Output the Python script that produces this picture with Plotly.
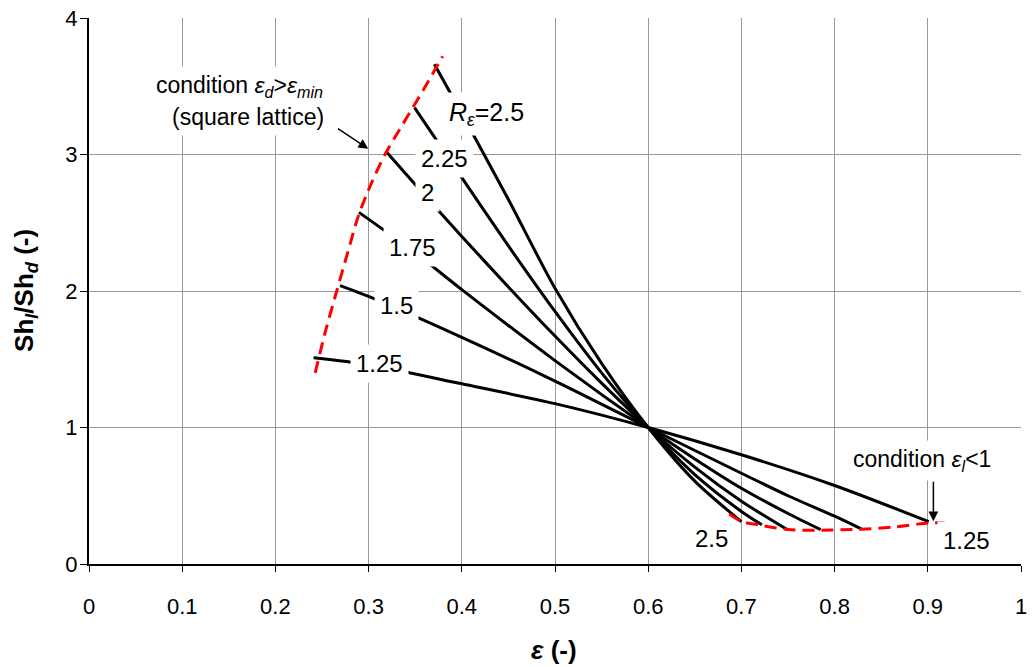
import plotly.graph_objects as go

# Sherwood ratio Sh_l/Sh_d versus mean porosity for several porosity ratios R_eps
eps_125 = [0.241, 0.30, 0.40, 0.50, 0.60, 0.70, 0.80, 0.901]
sh_125 = [1.511, 1.46, 1.32, 1.175, 1.00, 0.80, 0.575, 0.31]

eps_150 = [0.2694, 0.30, 0.40, 0.50, 0.60, 0.70, 0.75, 0.80, 0.829]
sh_150 = [2.04, 1.96, 1.66, 1.34, 1.00, 0.665, 0.50, 0.35, 0.256]

eps_175 = [0.2896, 0.35, 0.40, 0.50, 0.60, 0.65, 0.70, 0.75, 0.785]
sh_175 = [2.576, 2.28, 2.01, 1.49, 1.00, 0.77, 0.555, 0.37, 0.252]

eps_200 = [0.319, 0.35, 0.40, 0.45, 0.50, 0.55, 0.60, 0.65, 0.70, 0.75]
sh_200 = [3.02, 2.78, 2.40, 2.03, 1.67, 1.325, 1.00, 0.71, 0.46, 0.249]

eps_225 = [0.3493, 0.40, 0.45, 0.50, 0.55, 0.60, 0.65, 0.70, 0.722]
sh_225 = [3.344, 2.83, 2.33, 1.85, 1.40, 1.00, 0.655, 0.385, 0.287]

eps_250 = [0.3706, 0.40, 0.45, 0.50, 0.55, 0.60, 0.65, 0.70]
sh_250 = [3.661, 3.30, 2.67, 2.02, 1.47, 1.00, 0.607, 0.31]

# limit curves: eps_d > eps_min (square lattice) and eps_l < 1
lim_min_eps = [0.2427, 0.2535, 0.2658, 0.2775, 0.2890, 0.3030, 0.3175, 0.3330, 0.3480, 0.3635, 0.3795]
lim_min_sh = [1.40, 1.70, 2.00, 2.28, 2.55, 2.79, 3.00, 3.18, 3.35, 3.53, 3.72]
lim_one_eps = [0.687, 0.700, 0.720, 0.750, 0.785, 0.829, 0.865, 0.901, 0.918]
lim_one_sh = [0.366, 0.312, 0.285, 0.252, 0.248, 0.255, 0.272, 0.300, 0.302]

x_ticks = [0, 0.1, 0.2, 0.3, 0.4, 0.5, 0.6, 0.7, 0.8, 0.9, 1]
x_tick_text = ["0", "0.1", "0.2", "0.3", "0.4", "0.5", "0.6", "0.7", "0.8", "0.9", "1"]
y_ticks = [0, 1, 2, 3, 4]
y_tick_text = ["0", "1", "2", "3", "4"]

FONT = "Liberation Sans, Arial, sans-serif"

fig = go.Figure()

series = [
    (eps_125, sh_125), (eps_150, sh_150), (eps_175, sh_175),
    (eps_200, sh_200), (eps_225, sh_225), (eps_250, sh_250),
]
for xs, ys in series:
    fig.add_trace(go.Scatter(
        x=xs, y=ys, mode="lines",
        line=dict(color="black", width=3, shape="spline", smoothing=0.8),
        showlegend=False, hoverinfo="skip",
    ))

for xs, ys in [(lim_min_eps, lim_min_sh), (lim_one_eps, lim_one_sh)]:
    fig.add_trace(go.Scatter(
        x=xs, y=ys, mode="lines",
        line=dict(color="#ff0000", width=3, dash="12px,7px", shape="spline", smoothing=0.8),
        showlegend=False, hoverinfo="skip",
    ))

annotations = []

def label(text, x, y, size=24, **kw):
    annotations.append(dict(
        text=text, x=x, y=y, xref="x", yref="y", showarrow=False,
        font=dict(family=FONT, size=size, color="black"),
        bgcolor="white", borderpad=5, **kw,
    ))

label("<i>R</i><sub><i>ε</i></sub>=2.5", 0.4264, 3.30, size=25)
label("2.25", 0.3817, 2.969)
label("2", 0.3635, 2.723)
label("1.75", 0.3475, 2.32)
label("1.5", 0.3298, 1.894)
label("1.25", 0.312, 1.468)
label("2.5", 0.6684, 0.188)
label("1.25", 0.941, 0.175)

label("condition <i>ε</i><sub><i>d</i></sub>&gt;<i>ε</i><sub><i>min</i></sub>", 0.258, 3.50,
      size=23, xanchor="right")
label("(square lattice)", 0.259, 3.276, size=23, xanchor="right")
label("condition <i>ε</i><sub><i>l</i></sub>&lt;1", 0.8934, 0.76, size=23)

# arrows pointing at the limit curves
annotations.append(dict(
    text="", x=0.2996, y=3.042, xref="x", yref="y",
    ax=0.2655, ay=3.196, axref="x", ayref="y",
    showarrow=True, arrowhead=2, arrowsize=1.3, arrowwidth=1.5, arrowcolor="black",
))
annotations.append(dict(
    text="", x=0.906, y=0.314, xref="x", yref="y",
    ax=0.906, ay=0.614, axref="x", ayref="y",
    showarrow=True, arrowhead=2, arrowsize=1.3, arrowwidth=1.5, arrowcolor="black",
))

# axis titles
annotations.append(dict(
    text="<b><i>ε</i> (-)</b>", x=0.499, y=-0.157, xref="paper", yref="paper",
    xanchor="center", yanchor="middle",
    showarrow=False, font=dict(family=FONT, size=26, color="black"),
))
annotations.append(dict(
    text="<b>Sh<sub><i>l</i></sub>/Sh<sub><i>d</i></sub> (-)</b>", x=-0.0682, y=0.5009,
    xref="paper", yref="paper", textangle=-90, xanchor="center", yanchor="middle",
    showarrow=False, font=dict(family=FONT, size=26, color="black"),
))

fig.update_layout(
    width=1033, height=667,
    margin=dict(l=89, r=6, t=17, b=103),
    paper_bgcolor="white", plot_bgcolor="white",
    font=dict(family=FONT, size=22, color="black"),
    annotations=annotations,
    xaxis=dict(
        range=[0, 1], tickvals=x_ticks, ticktext=x_tick_text,
        showgrid=True, gridcolor="#999999", gridwidth=1,
        showline=True, linecolor="black", linewidth=2,
        ticks="outside", ticklen=6, tickcolor="black", tickwidth=1,
        ticklabelstandoff=16, ticklabeloverflow="allow", zeroline=False,
        tickfont=dict(family=FONT, size=22),
    ),
    yaxis=dict(
        range=[0, 4], tickvals=y_ticks, ticktext=y_tick_text,
        showgrid=True, gridcolor="#999999", gridwidth=1,
        showline=True, linecolor="black", linewidth=2,
        ticks="outside", ticklen=7, tickcolor="black", tickwidth=1,
        ticklabelstandoff=-2, zeroline=False,
        tickfont=dict(family=FONT, size=22),
    ),
)

fig.write_html("out.html")
